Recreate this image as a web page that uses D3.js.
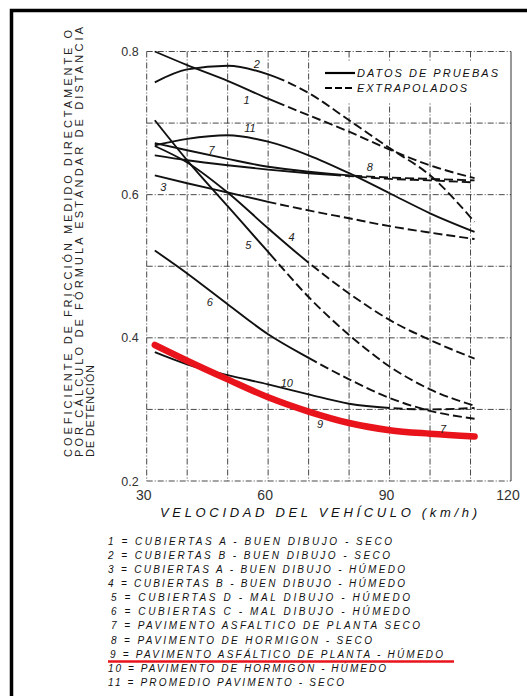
<!DOCTYPE html>
<html>
<head>
<meta charset="utf-8">
<script src="https://cdnjs.cloudflare.com/ajax/libs/d3/7.8.5/d3.min.js"></script>
<style>
body{margin:0;background:#fff;}
text{font-family:'Liberation Sans',Arial,sans-serif;}
</style>
</head>
<body>
<div id="graphWrapper"></div>
<script>
//data (speed in km/h, friction coefficient)
const SPEEDS = [32, 40, 50, 60, 70, 80, 90, 100, 111];
const CURVE_1  = [0.800, 0.781, 0.759, 0.734, 0.711, 0.688, 0.663, 0.641, 0.623];
const CURVE_2  = [0.757, 0.775, 0.780, 0.768, 0.742, 0.704, 0.665, 0.627, 0.562];
const CURVE_3  = [0.627, 0.616, 0.603, 0.590, 0.578, 0.567, 0.556, 0.547, 0.538];
const CURVE_4  = [0.668, 0.645, 0.603, 0.553, 0.505, 0.462, 0.425, 0.397, 0.371];
const CURVE_5  = [0.704, 0.648, 0.584, 0.520, 0.457, 0.404, 0.360, 0.328, 0.305];
const CURVE_6  = [0.522, 0.490, 0.447, 0.405, 0.372, 0.342, 0.316, 0.298, 0.287];
const CURVE_7  = [0.672, 0.662, 0.650, 0.639, 0.632, 0.627, 0.624, 0.622, 0.620];
const CURVE_8  = [0.655, 0.648, 0.641, 0.635, 0.630, 0.626, 0.622, 0.620, 0.617];
const CURVE_9  = [0.390, 0.368, 0.342, 0.317, 0.297, 0.281, 0.271, 0.266, 0.262];
const CURVE_10 = [0.380, 0.363, 0.348, 0.335, 0.321, 0.308, 0.302, 0.300, 0.302];
const CURVE_11 = [0.669, 0.678, 0.683, 0.674, 0.655, 0.630, 0.602, 0.574, 0.548];
const CURVES = [CURVE_1, CURVE_2, CURVE_3, CURVE_4, CURVE_5, CURVE_6, CURVE_7, CURVE_8, CURVE_9, CURVE_10, CURVE_11];
//speed where test data ends and extrapolation (dashed) begins, null = all test data
const DASH_FROM = [64, 64, 62, 70, 62, 72, 80, 78, null, 90, null];
const HIGHLIGHT = 8; //index of curve 9, drawn in red

const X_TICKS = [30, 60, 90, 120];
const Y_TICKS = [0.2, 0.4, 0.6, 0.8];
const X_GRID = [30, 40, 50, 60, 70, 80, 90, 100, 110, 120];
const Y_GRID = [0.2, 0.3, 0.4, 0.5, 0.6, 0.7, 0.8];

//curve number labels [text, speed, friction]
const CURVE_LABELS = [
    ['2', 57.2, 0.783], ['1', 54.7, 0.732], ['11', 55.5, 0.693], ['7', 46.0, 0.662],
    ['3', 34.1, 0.611], ['8', 85.1, 0.639], ['5', 55.1, 0.529], ['6', 45.6, 0.450],
    ['4', 65.8, 0.541], ['10', 64.6, 0.337], ['9', 72.8, 0.280], ['7', 103.2, 0.273]
];

const LEGEND_TOP = ['DATOS DE PRUEBAS', 'EXTRAPOLADOS'];
const LEGEND_ITEMS = [
    '1 = CUBIERTAS A - BUEN DIBUJO - SECO',
    '2 = CUBIERTAS B - BUEN DIBUJO - SECO',
    '3 = CUBIERTAS A - BUEN DIBUJO - HÚMEDO',
    '4 = CUBIERTAS B - BUEN DIBUJO - HÚMEDO',
    '5 = CUBIERTAS D - MAL DIBUJO - HÚMEDO',
    '6 = CUBIERTAS C - MAL DIBUJO - HÚMEDO',
    '7 = PAVIMENTO ASFALTICO DE PLANTA SECO',
    '8 = PAVIMENTO DE HORMIGON - SECO',
    '9 = PAVIMENTO ASFÁLTICO DE PLANTA - HÚMEDO',
    '10 = PAVIMENTO DE HORMIGÓN - HÚMEDO',
    '11 = PROMEDIO PAVIMENTO - SECO'
];
const X_TITLE = 'VELOCIDAD DEL VEHÍCULO  (km/h)';
const Y_TITLE = [
    'COEFICIENTE DE FRICCIÓN MEDIDO DIRECTAMENTE O',
    'POR CÁLCULO DE FÓRMULA ESTÁNDAR DE DISTANCIA',
    'DE DETENCIÓN'
];

//layout
const CONSTANTS = {
    WIDTH:527,
    HEIGHT:696,
    LEFT:146.7,    //pixel of 30 km/h
    RIGHT:511,     //pixel of 120 km/h
    TOP:51.5,      //pixel of 0.8
    BOTTOM:481,    //pixel of 0.2
    RED:'#e8131b'
};
//start and end x of each legend line in the list below the chart
const LEGEND_X = [[108,392],[108,390],[108,405],[108,405],[111,410],[111,410],[111,420],[111,372],[110,443],[108,386],[108,344]];

function main(){
    let svg = d3.select('#graphWrapper')
        .append('svg')
        .attr('width',CONSTANTS.WIDTH)
        .attr('height',CONSTANTS.HEIGHT);

    let scales = buildScales();

    buildFrame(svg);
    buildGrid(svg,scales);
    buildTopLegend(svg);
    buildCurves(svg,scales);
    buildLabels(svg,scales);
    buildTitles(svg,scales);
    buildLegend(svg);
}

function buildScales(){
    let x = d3.scaleLinear().domain([30,120]).range([CONSTANTS.LEFT,CONSTANTS.RIGHT]);
    let y = d3.scaleLinear().domain([0.2,0.8]).range([CONSTANTS.BOTTOM,CONSTANTS.TOP]);
    return {x:x,y:y};
}

//thick black frame round the figure (open at right and bottom)
function buildFrame(svg){
    svg.append('rect')
        .attr('x',11.5).attr('y',10.5)
        .attr('width',CONSTANTS.WIDTH + 20)
        .attr('height',CONSTANTS.HEIGHT + 20)
        .attr('fill','none')
        .attr('stroke','#000')
        .attr('stroke-width',3.5);
}

function buildGrid(svg,scales){
    let g = svg.append('g').attr('id','grid');

    g.selectAll('line.v')
        .data(X_GRID)
        .enter()
        .append('line')
        .attr('class','v')
        .attr('x1',d=>scales.x(d)).attr('x2',d=>scales.x(d))
        .attr('y1',scales.y(0.8)).attr('y2',scales.y(0.2))
        .attr('stroke','#333')
        .attr('stroke-width',d=> d === 120 ? 1 : 0.9)
        .attr('stroke-dasharray',d=> d === 120 ? null : '6 2 1 2');

    g.selectAll('line.h')
        .data(Y_GRID)
        .enter()
        .append('line')
        .attr('class','h')
        .attr('x1',scales.x(30)).attr('x2',scales.x(120))
        .attr('y1',d=>scales.y(d)).attr('y2',d=>scales.y(d))
        .attr('stroke','#333')
        .attr('stroke-width',0.9)
        .attr('stroke-dasharray','6 2 1 2');

    //tick labels
    g.selectAll('text.yt')
        .data(Y_TICKS)
        .enter()
        .append('text')
        .attr('class','yt')
        .attr('x',scales.x(30) - 8)
        .attr('y',d=>scales.y(d))
        .attr('dy','0.36em')
        .attr('text-anchor','end')
        .style('font-size','12.5px')
        .style('fill','#333')
        .text(d=>d.toFixed(1));

    g.selectAll('text.xt')
        .data(X_TICKS)
        .enter()
        .append('text')
        .attr('class','xt')
        .attr('x',d=>scales.x(d) - 3)
        .attr('y',scales.y(0.2) + 19)
        .attr('text-anchor','middle')
        .style('font-size','14px')
        .style('fill','#333')
        .text(d=>d);
}

function buildTopLegend(svg){
    let g = svg.append('g').attr('id','topLegend');
    g.append('rect')
        .attr('x',322).attr('y',61)
        .attr('width',185).attr('height',42)
        .attr('fill','#fff');

    LEGEND_TOP.forEach((t,i)=>{
        let y = 73 + i*15;
        g.append('line')
            .attr('x1',325).attr('x2',355)
            .attr('y1',y).attr('y2',y)
            .attr('stroke','#000')
            .attr('stroke-width',2.2)
            .attr('stroke-dasharray',i === 0 ? null : '7 3');
        g.append('text')
            .attr('x',357).attr('y',y + 4)
            .attr('textLength',i === 0 ? 141 : 110)
            .attr('lengthAdjust','spacing')
            .style('font-size','11px')
            .style('font-style','italic')
            .style('fill','#111')
            .text(t);
    });
}

function buildCurves(svg,scales){
    let g = svg.append('g').attr('id','curves');
    let line = d3.line()
        .x(d=>scales.x(d[0]))
        .y(d=>scales.y(d[1]))
        .curve(d3.curveMonotoneX);

    //draw red curve last so it sits on top
    let order = d3.range(CURVES.length).filter(i=>i !== HIGHLIGHT).concat([HIGHLIGHT]);

    order.forEach(i=>{
        let points = SPEEDS.map((s,j)=>[s,CURVES[i][j]]);
        let red = i === HIGHLIGHT;
        let path = g.append('path')
            .datum(points)
            .attr('d',line)
            .attr('fill','none')
            .attr('stroke',red ? CONSTANTS.RED : '#111')
            .attr('stroke-width',red ? 6.5 : 1.9)
            .attr('stroke-linecap',red ? 'round' : 'butt');

        if(DASH_FROM[i] !== null){
            let node = path.node();
            let total = node.getTotalLength();
            let solid = lengthAtX(node,total,scales.x(DASH_FROM[i]));
            let dashes = [solid,4];
            let sum = solid + 4;
            while(sum < total + 20){
                dashes.push(9,4);
                sum += 13;
            }
            path.attr('stroke-dasharray',dashes.join(' '));
        }
    });
}

//find the path length where the path reaches pixel x
function lengthAtX(node,total,x){
    let lo = 0, hi = total;
    for(let k = 0; k < 30; k++){
        let mid = (lo + hi)/2;
        if(node.getPointAtLength(mid).x < x){
            lo = mid;
        }else{
            hi = mid;
        }
    }
    return lo;
}

function buildLabels(svg,scales){
    svg.append('g')
        .attr('id','curveLabels')
        .selectAll('text')
        .data(CURVE_LABELS)
        .enter()
        .append('text')
        .attr('x',d=>scales.x(d[1]))
        .attr('y',d=>scales.y(d[2]))
        .attr('dy','0.36em')
        .attr('text-anchor','middle')
        .style('font-size','11px')
        .style('font-style','italic')
        .style('fill','#222')
        .text(d=>d[0]);
}

function buildTitles(svg,scales){
    svg.append('text')
        .attr('x',160).attr('y',517)
        .attr('textLength',317)
        .attr('lengthAdjust','spacing')
        .style('font-size','13px')
        .style('font-style','italic')
        .style('fill','#111')
        .text(X_TITLE);

    let base = [72,83,94];
    let lengths = [427,430,92];
    Y_TITLE.forEach((t,i)=>{
        svg.append('text')
            .attr('transform','translate(' + base[i] + ',457) rotate(-90)')
            .attr('textLength',lengths[i])
            .attr('lengthAdjust','spacing')
            .style('font-size','11px')
            .style('fill','#222')
            .text(t);
    });
}

function buildLegend(svg){
    let g = svg.append('g').attr('id','legend');
    g.selectAll('text')
        .data(LEGEND_ITEMS)
        .enter()
        .append('text')
        .attr('x',(d,i)=>LEGEND_X[i][0])
        .attr('y',(d,i)=>544.8 + i*14.1)
        .attr('textLength',(d,i)=>LEGEND_X[i][1] - LEGEND_X[i][0])
        .attr('lengthAdjust','spacing')
        .style('font-size','10px')
        .style('font-style','italic')
        .style('fill','#111')
        .text(d=>d);

    //red underline under item 9
    g.append('line')
        .attr('x1',108).attr('x2',454)
        .attr('y1',661.5).attr('y2',661.5)
        .attr('stroke',CONSTANTS.RED)
        .attr('stroke-width',2.5);
}

main();
</script>
</body>
</html>
